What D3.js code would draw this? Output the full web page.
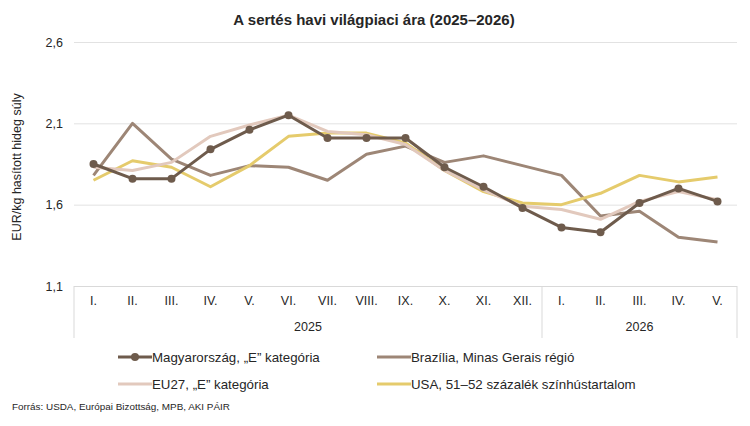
<!DOCTYPE html>
<html>
<head>
<meta charset="utf-8">
<script src="https://cdn.jsdelivr.net/npm/d3@7"></script>
<style>
  body { margin: 0; background: #fff; }
  text { font-family: "Liberation Sans", Arial, sans-serif; fill: #262626; }
</style>
</head>
<body>
<div id="chart"></div>
<script>
const months = ["I.", "II.", "III.", "IV.", "V.", "VI.", "VII.", "VIII.", "IX.", "X.", "XI.", "XII.", "I.", "II.", "III.", "IV.", "V."];
const years = [{ label: "2025", from: 0, to: 11 }, { label: "2026", from: 12, to: 16 }];
const yTicks = [1.1, 1.6, 2.1, 2.6];

const hungary = [1.85, 1.76, 1.76, 1.94, 2.06, 2.15, 2.01, 2.01, 2.01, 1.83, 1.71, 1.58, 1.46, 1.43, 1.61, 1.70, 1.62];
const brazil = [1.78, 2.10, 1.88, 1.78, 1.84, 1.83, 1.75, 1.91, 1.96, 1.86, 1.90, 1.84, 1.78, 1.53, 1.56, 1.40, 1.37];
const eu27 = [1.83, 1.81, 1.86, 2.02, 2.09, 2.15, 2.05, 2.03, 1.97, 1.81, 1.69, 1.59, 1.57, 1.51, 1.62, 1.68, 1.63];
const usa = [1.75, 1.87, 1.83, 1.71, 1.84, 2.02, 2.04, 2.04, 1.98, 1.81, 1.68, 1.61, 1.60, 1.67, 1.78, 1.74, 1.77];

const series = [
  { name: "Magyarország, „E” kategória", values: hungary, color: "#6e5b4c", marker: true },
  { name: "Brazília, Minas Gerais régió", values: brazil, color: "#9d8676", marker: false },
  { name: "EU27, „E” kategória", values: eu27, color: "#e2c9bd", marker: false },
  { name: "USA, 51–52 százalék színhústartalom", values: usa, color: "#e5cb6c", marker: false }
];

const width = 750, height = 426;
const margin = { top: 42, right: 13, bottom: 140, left: 74 };

const svg = d3.select("#chart").append("svg")
  .attr("width", width)
  .attr("height", height);

const x = d3.scaleBand()
  .domain(d3.range(months.length))
  .range([margin.left, width - margin.right]);

const y = d3.scaleLinear()
  .domain([1.1, 2.6])
  .range([height - margin.bottom, margin.top]);

// title
svg.append("text")
  .attr("x", 374).attr("y", 25)
  .attr("text-anchor", "middle")
  .attr("font-size", 15).attr("font-weight", "bold")
  .attr("fill", "#111")
  .text("A sertés havi világpiaci ára (2025–2026)");

// grid + y labels
const yAxis = svg.append("g")
  .attr("transform", `translate(${margin.left},0)`)
  .call(d3.axisLeft(y).tickValues(yTicks).tickFormat(d => d3.format(".1f")(d).replace(".", ","))
    .tickSize(-(width - margin.left - margin.right)).tickPadding(11))
  .call(g => g.select(".domain").remove());
yAxis.selectAll(".tick line").attr("stroke", "#e2e2e2");
yAxis.selectAll(".tick text").attr("font-size", 12.5).attr("fill", "#333")
  .attr("font-family", "Liberation Sans, Arial, sans-serif");
yAxis.selectAll(".tick").filter(d => d === 1.1).select("line").attr("stroke", "#d9d9d9");

svg.append("text")
  .attr("transform", `translate(21,${(margin.top + height - margin.bottom) / 2 + 3}) rotate(-90)`)
  .attr("text-anchor", "middle")
  .attr("font-size", 12.5)
  .text("EUR/kg hasított hideg súly");

// category axis box
const axisG = svg.append("g");
const y0 = height - margin.bottom;
[x(0), x(years[1].from), x(months.length - 1) + x.bandwidth()].forEach(px => {
  axisG.append("line")
    .attr("x1", px).attr("x2", px)
    .attr("y1", y0).attr("y2", y0 + 52)
    .attr("stroke", "#d9d9d9");
});
axisG.selectAll("text.month")
  .data(months)
  .join("text")
  .attr("class", "month")
  .attr("x", (d, i) => x(i) + x.bandwidth() / 2)
  .attr("y", y0 + 19)
  .attr("text-anchor", "middle")
  .attr("font-size", 12.5)
  .text(d => d);
axisG.selectAll("text.year")
  .data(years)
  .join("text")
  .attr("class", "year")
  .attr("x", d => (x(d.from) + x(d.to) + x.bandwidth()) / 2)
  .attr("y", y0 + 45)
  .attr("text-anchor", "middle")
  .attr("font-size", 12.5)
  .text(d => d.label);

// lines
const line = d3.line()
  .x((d, i) => x(i) + x.bandwidth() / 2)
  .y(d => y(d));

const drawOrder = [1, 3, 2, 0];
drawOrder.forEach(k => {
  const s = series[k];
  svg.append("path")
    .datum(s.values)
    .attr("fill", "none")
    .attr("stroke", s.color)
    .attr("stroke-width", 3)
    .attr("stroke-linejoin", "round")
    .attr("d", line);
  if (s.marker) {
    svg.selectAll(null)
      .data(s.values)
      .join("circle")
      .attr("cx", (d, i) => x(i) + x.bandwidth() / 2)
      .attr("cy", d => y(d))
      .attr("r", 4)
      .attr("fill", s.color);
  }
});

// legend
const legendPos = [[118, 357], [377, 357], [118, 384], [377, 384]];
series.forEach((s, i) => {
  const [lx, ly] = legendPos[i];
  const g = svg.append("g").attr("transform", `translate(${lx},${ly})`);
  g.append("line").attr("x1", 0).attr("x2", 34).attr("y1", 0).attr("y2", 0)
    .attr("stroke", s.color).attr("stroke-width", 3);
  if (s.marker) g.append("circle").attr("cx", 17).attr("cy", 0).attr("r", 4).attr("fill", s.color);
  g.append("text").attr("x", 34).attr("y", 4.8).attr("font-size", 13.3).text(s.name);
});

svg.append("text")
  .attr("x", 12).attr("y", 410)
  .attr("font-size", 9.9)
  .text("Forrás: USDA, Európai Bizottság, MPB, AKI PÁIR");
</script>
</body>
</html>
